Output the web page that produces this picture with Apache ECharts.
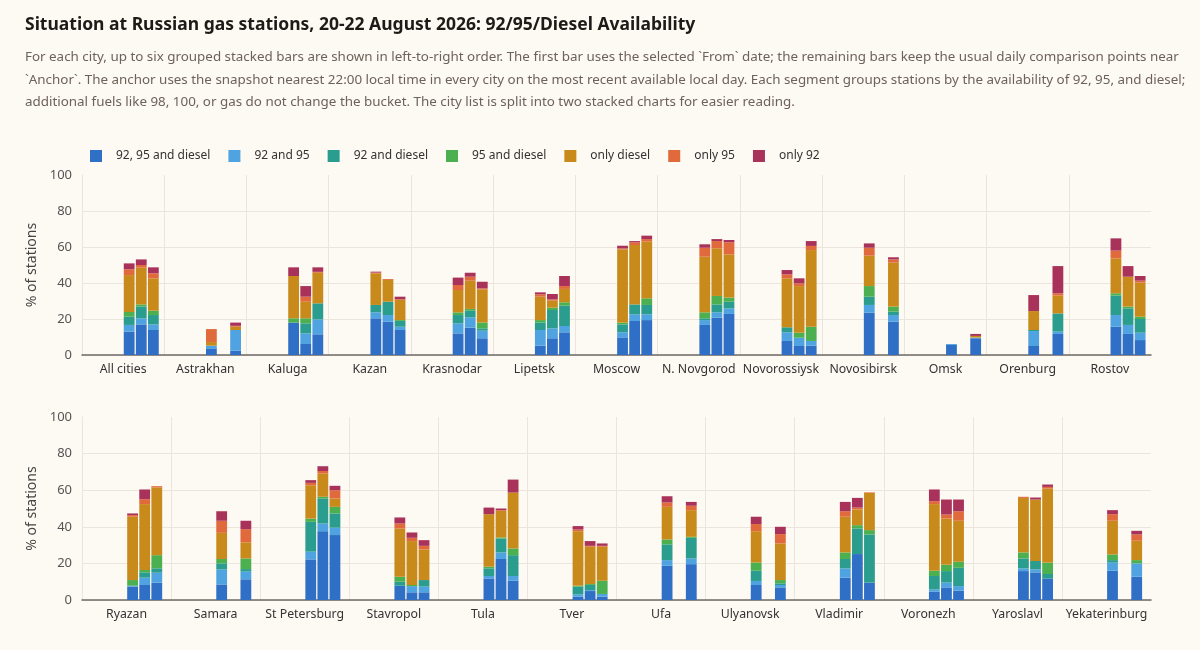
<!DOCTYPE html>
<html>
<head>
<meta charset="utf-8">
<script src="https://cdn.jsdelivr.net/npm/echarts@6/dist/echarts.min.js"></script>
<style>
  html, body { margin: 0; padding: 0; background: #fdf9f3; }
  #chart { width: 1200px; height: 650px; }
</style>
</head>
<body>
<div id="chart"></div>
<script>
const topCities = ['All cities','Astrakhan','Kaluga','Kazan','Krasnodar','Lipetsk','Moscow','N. Novgorod','Novorossiysk','Novosibirsk','Omsk','Orenburg','Rostov'];
const bottomCities = ['Ryazan','Samara','St Petersburg','Stavropol','Tula','Tver','Ufa','Ulyanovsk','Vladimir','Voronezh','Yaroslavl','Yekaterinburg'];
const fuels = ['92, 95 and diesel','92 and 95','92 and diesel','95 and diesel','only diesel','only 95','only 92'];
const yTicks = [0, 20, 40, 60, 80, 100];

// segment values per city: [92+95+diesel, 92+95, 92+diesel, 95+diesel, only diesel, only 95, only 92]
const topFrom = [
  [13.0,3.7,4.6,2.6,20.5,3.2,3.3],
  [3.7,1.5,0,0,2.0,7.2,0],
  [18.0,0,0,2.4,23.5,0,4.8],
  [20.4,3.3,4.1,0,17.6,0.4,0.5],
  [12.0,5.6,4.6,1.5,12.4,2.8,4.1],
  [5.2,8.7,4.1,1.4,13.0,1.3,1.1],
  [9.8,2.8,4.4,1.0,40.7,0.5,1.5],
  [16.7,2.7,1.0,3.3,30.9,5.0,1.9],
  [7.8,4.8,2.8,0,27.2,2.2,2.4],
  [23.5,4.3,4.6,5.9,16.9,4.4,2.4],
  [5.6,0.5,0,0,0,0,0],
  [5.0,8.3,0.6,0,10.5,0,8.9],
  [15.7,6.5,10.8,1.3,19.4,4.3,6.8]
];
const topMid = [
  [17.0,3.4,6.5,1.2,20.4,1.5,3.1],
  null,
  [6.1,5.9,5.6,2.8,9.2,2.8,5.9],
  [18.5,3.7,7.4,0,12.1,0.5,0],
  [15.2,5.7,3.7,1.0,15.7,2.2,2.2],
  [9.3,5.5,10.2,1.3,3.9,0.7,3.0],
  [18.9,3.7,5.5,0,33.0,1.5,0.7],
  [20.7,3.0,4.4,4.7,26.5,4.0,1.1],
  [5.0,4.6,0,2.8,25.9,1.5,2.8],
  null,
  null,
  null,
  [11.7,5.0,9.2,1.0,16.6,0,5.9]
];
const topAnchor = [
  [13.9,3.1,5.2,2.4,18.0,2.8,3.3],
  [2.4,11.5,0,0,1.8,0.5,1.8],
  [11.5,8.3,8.9,0,17.0,0.5,2.5],
  [13.9,1.8,3.2,0.5,11.2,0.4,1.4],
  [9.3,4.2,1.3,3.3,18.4,0.5,3.7],
  [12.6,3.5,11.3,1.9,7.4,1.6,5.6],
  [19.4,3.2,5.2,3.7,31.5,1.4,1.9],
  [22.8,3.1,3.7,2.3,24.0,6.7,1.3],
  [5.2,2.6,0,7.9,42.6,2.3,2.7],
  [18.5,3.7,1.9,2.8,24.4,1.8,1.2],
  [9.3,0.4,0,0,0.9,0,1.1],
  [11.7,1.3,10.1,0,9.9,1.3,15.1],
  [8.3,4.1,7.6,1.3,18.9,1.1,2.6]
];
const bottomFrom = [
  [7.3,0.5,0,3.1,34.6,0.9,0.9],
  [8.5,8.2,3.3,2.4,14.3,6.6,5.2],
  [22.2,4.2,16.3,1.8,18.2,1.3,1.5],
  [7.8,0,2.2,2.7,26.4,2.7,3.3],
  [11.8,1.3,4.2,0.9,28.7,0,3.6],
  [1.8,1.3,4.2,0.5,29.8,0.9,1.9],
  [18.7,3.1,8.6,2.7,17.8,2.4,3.4],
  [8.2,2.2,5.6,4.5,17.1,3.9,4.0],
  [12.2,5.1,5.1,3.6,19.5,3.0,5.1],
  [4.5,1.3,7.3,2.9,36.4,1.6,6.4],
  [15.8,1.5,5.4,3.3,29.8,0.6,0],
  [16.0,4.4,1.4,3.1,18.4,3.6,2.2]
];
const bottomMid = [
  [8.2,4.0,2.9,1.3,36.0,2.7,5.3],
  null,
  [37.6,4.2,13.7,0.9,12.7,1.4,2.6],
  [4.2,3.4,0,0.6,24.0,1.8,2.9],
  [22.4,3.6,7.6,0.6,14.5,0.4,0.9],
  [4.9,0.5,2.8,0.5,20.4,0.5,2.6],
  null,
  null,
  [25.1,0,14.0,1.8,8.6,1.0,5.3],
  [6.9,2.6,6.3,3.5,25.2,2.2,8.2],
  [15.1,1.6,4.6,0,33.6,0,1.1],
  null
];
const bottomAnchor = [
  [9.5,5.4,2.4,7.2,37.0,0.7,0],
  [11.3,4.2,1.4,5.8,8.8,7.2,4.6],
  [35.5,4.0,7.8,3.6,4.6,4.5,2.4],
  [4.2,3.1,3.6,0,16.7,2.0,3.1],
  [10.5,2.6,11.4,3.7,30.5,0,7.1],
  [1.8,1.5,0,7.2,18.6,0.5,1.3],
  [19.6,3.1,11.3,0.5,14.6,2.4,2.1],
  [6.9,1.3,0.9,1.8,20.0,5.1,4.0],
  [9.5,0,26.3,2.4,20.3,0.3,0],
  [5.1,2.5,10.0,3.3,22.4,5.2,6.4],
  [11.8,0,2.4,6.2,40.5,0.9,1.3],
  [12.7,7.3,0,1.8,10.6,3.4,2.0]
];

const fuelColors = ['#2f6fc6','#4fa3e0','#2a9d8f','#4caf50','#c98a1c','#e06a3b','#a8325a'];
const FONT = 'Noto Sans, sans-serif';
const BAR_W = 10.8;
const BAR_GAP = '12%';

function buildSeries(gridIdx, cities, slots) {
  const out = [];
  // three unused leading slots (no bars), keeping the 6-slot grouping
  for (let e = 0; e < 3; e++) {
    out.push({
      type: 'bar', name: 'unused' + e, xAxisIndex: gridIdx, yAxisIndex: gridIdx,
      stack: 'g' + gridIdx + 'e' + e, barWidth: BAR_W, barGap: BAR_GAP, silent: true,
      data: cities.map(() => null)
    });
  }
  slots.forEach((rows, s) => {
    fuels.forEach((f, k) => {
      out.push({
        type: 'bar', name: f, xAxisIndex: gridIdx, yAxisIndex: gridIdx,
        stack: 'g' + gridIdx + 's' + s, barWidth: BAR_W, barGap: BAR_GAP,
        itemStyle: { color: fuelColors[k] },
        data: rows.map(r => (r ? r[k] : null))
      });
    });
  });
  return out;
}

const subLines = [
  'For each city, up to six grouped stacked bars are shown in left-to-right order. The first bar uses the selected `From` date; the remaining bars keep the usual daily comparison points near',
  '`Anchor`. The anchor uses the snapshot nearest 22:00 local time in every city on the most recent available local day. Each segment groups stations by the availability of 92, 95, and diesel;',
  'additional fuels like 98, 100, or gas do not change the bucket. The city list is split into two stacked charts for easier reading.'
];

const gridLine = '#ebe5de';
function xAxisFor(idx, cities) {
  return {
    type: 'category', gridIndex: idx, data: cities,
    axisLine: { lineStyle: { color: '#6f6a66', width: 1.5 } },
    axisTick: { show: false },
    axisLabel: { interval: 0, fontSize: 12.3, color: '#333', fontFamily: FONT, margin: 8 },
    splitLine: { show: true, showMaxLine: false, lineStyle: { color: gridLine } }
  };
}
function yAxisFor(idx) {
  return {
    type: 'value', gridIndex: idx, min: yTicks[0], max: yTicks[yTicks.length - 1], interval: 20,
    name: '% of stations', nameLocation: 'middle', nameGap: 40,
    nameTextStyle: { fontSize: 14, color: '#444', fontFamily: FONT },
    axisLine: { show: true, lineStyle: { color: gridLine } },
    axisTick: { show: false },
    axisLabel: { fontSize: 13, color: '#555', fontFamily: FONT, margin: 10 },
    splitLine: { showMaxLine: false, lineStyle: { color: gridLine } }
  };
}

const chart = echarts.init(document.getElementById('chart'));
chart.setOption({
  backgroundColor: '#fdf9f3',
  animation: false,
  title: {
    text: 'Situation at Russian gas stations, 20-22 August 2026: 92/95/Diesel Availability',
    subtext: subLines.join('\n'),
    left: 20, top: 11, itemGap: 12,
    textStyle: { fontSize: 17.5, fontWeight: 'bold', color: '#1e1a17', fontFamily: FONT },
    subtextStyle: { fontSize: 13.4, color: '#6d625a', lineHeight: 22.5, fontFamily: FONT }
  },
  legend: {
    data: fuels, left: 90, top: 150, padding: 0, icon: 'rect', itemWidth: 12, itemHeight: 12, itemGap: 18,
    textStyle: { fontSize: 12, color: '#333', fontFamily: FONT, padding: [0, 0, 0, 9] }
  },
  grid: [
    { left: 82, right: 49, top: 175, height: 180 },
    { left: 82, right: 49, top: 417, height: 183 }
  ],
  xAxis: [xAxisFor(0, topCities), xAxisFor(1, bottomCities)],
  yAxis: [yAxisFor(0), yAxisFor(1)],
  series: [].concat(
    buildSeries(0, topCities, [topFrom, topMid, topAnchor]),
    buildSeries(1, bottomCities, [bottomFrom, bottomMid, bottomAnchor])
  )
});
</script>
</body>
</html>
